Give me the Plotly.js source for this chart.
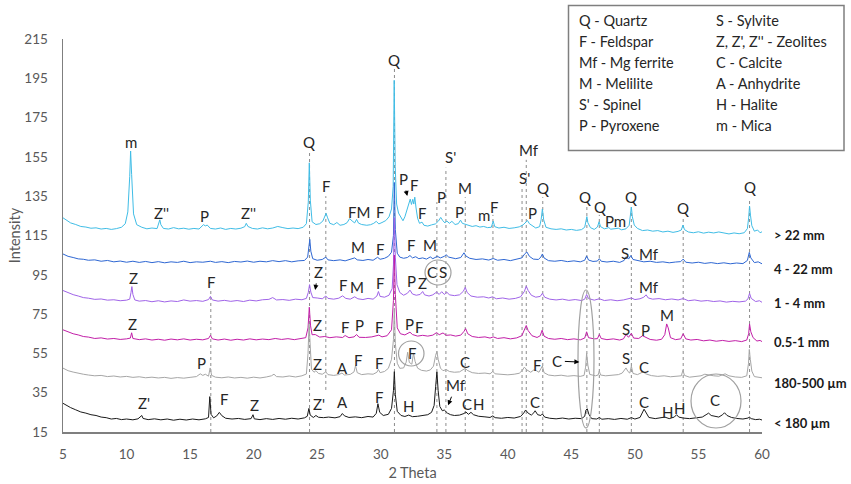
<!DOCTYPE html>
<html><head><meta charset="utf-8">
<script src="https://cdn.plot.ly/plotly-3.0.1.min.js"></script>
<style>html,body{margin:0;padding:0;background:#fff}#chart{width:851px;height:484px}</style>
</head><body><div id="chart"></div>
<script>
// ---- data: [2theta, intensity] ----
const s22 = [[5,124],[5.3,122.6],[5.6,121.4],[6,120.6],[6.4,119.6],[6.8,119.3],[7.2,118.7],[7.6,118.9],[8,118.3],[8.4,118.6],[8.8,118.1],[9.2,118.5],[9.6,119.2],[9.9,121],[10.1,127],[10.25,145],[10.32,158],[10.4,146],[10.55,126],[10.8,120.5],[11.2,119.2],[11.6,118.4],[12.0,118.8],[12.4,118.5],[12.55,121],[12.62,123],[12.7,120.5],[12.9,118.6],[13.3,118.3],[13.7,119],[14.1,118.4],[14.5,118.7],[14.9,118.2],[15.3,118.6],[15.7,118.3],[15.9,119.8],[16.05,120.5],[16.2,119.9],[16.35,120.3],[16.6,118.6],[17.0,118.3],[17.4,118.8],[17.8,118.1],[18.2,118.6],[18.6,118.3],[19.0,118.7],[19.3,119.5],[19.42,121.2],[19.55,119.6],[19.9,118.6],[20.3,118.3],[20.7,118.9],[21.1,118.4],[21.5,118.8],[21.9,119.6],[22.3,119],[22.7,118.5],[23.1,118.8],[23.5,118.5],[23.9,119.2],[24.15,121],[24.3,132],[24.38,152],[24.46,133],[24.6,122],[24.9,120.6],[25.2,121],[25.45,122.4],[25.62,125],[25.7,126.3],[25.82,124],[26.0,121.2],[26.3,120.5],[26.55,121.6],[26.8,120.2],[27.1,120.6],[27.35,121.5],[27.55,123.6],[27.75,122.4],[27.95,121.4],[28.1,123.2],[28.25,121.3],[28.5,120.6],[28.9,120.2],[29.2,120.5],[29.45,121.2],[29.65,122.2],[29.85,120.9],[30.1,121.6],[30.4,122.6],[30.65,124.5],[30.85,128.5],[30.98,140],[31.06,194],[31.14,150],[31.25,131],[31.4,126.4],[31.55,124.8],[31.75,122.5],[31.9,124.5],[32.05,127.6],[32.2,130.5],[32.32,133.5],[32.42,130.8],[32.52,133.4],[32.6,131],[32.68,134.5],[32.78,129],[32.9,123.8],[33.05,121.2],[33.25,121.8],[33.4,120.2],[33.7,119.8],[34.0,120.4],[34.3,120.9],[34.55,122.4],[34.72,124.2],[34.88,122.6],[35.05,121.4],[35.2,122.4],[35.4,121.2],[35.6,122.2],[35.85,120.6],[36.1,121],[36.28,122.8],[36.42,121.2],[36.6,120.8],[36.9,120],[37.2,119.6],[37.5,120],[37.8,119.3],[38.1,119.6],[38.4,119],[38.7,119.2],[38.85,122.3],[38.97,119.5],[39.3,118.8],[39.7,119.2],[40.1,118.6],[40.5,118.9],[40.9,119.4],[41.2,120.4],[41.42,121.6],[41.55,122.6],[41.7,121],[41.9,120.2],[42.2,118.8],[42.5,119.5],[42.62,123],[42.72,128.5],[42.82,123],[43.0,119.2],[43.4,118.4],[43.8,118.1],[44.2,118.4],[44.6,117.8],[45.0,118.1],[45.4,117.6],[45.8,118],[46.05,119.2],[46.15,122],[46.22,124.6],[46.3,121.5],[46.5,119],[46.8,118.1],[47.05,119.3],[47.18,122],[47.3,119.5],[47.6,118.4],[47.95,119],[48.1,118.2],[48.4,118.4],[48.7,118.7],[48.95,117.9],[49.3,118.4],[49.55,120.2],[49.66,125],[49.72,129.4],[49.8,124.5],[49.95,120.3],[50.2,118.6],[50.6,117.5],[51.0,117.8],[51.4,117.2],[51.8,117.5],[52.2,116.8],[52.6,117.2],[53.0,116.6],[53.4,117.1],[53.65,117.8],[53.78,120.3],[53.9,118],[54.2,116.8],[54.6,116.4],[55.0,116.9],[55.4,116.2],[55.8,116.7],[56.2,116.3],[56.6,116.8],[57.0,116.2],[57.4,115.8],[57.8,116.3],[58.2,115.9],[58.6,116.4],[58.85,118.5],[58.95,124],[59.02,130],[59.1,125],[59.2,120],[59.4,117.2],[59.65,117.8],[59.85,116.4],[60,116.9]];

const s4_22 = [[5,105.6],[5.4,104.4],[5.8,103.8],[6.2,103.1],[6.6,102.9],[7.0,102.4],[7.5,102.6],[8.0,101.9],[8.5,102.3],[9.0,101.6],[9.5,102],[10.0,101.4],[10.5,101.9],[11.0,101.3],[11.5,101.8],[12.0,101.2],[12.5,101.7],[13.0,101.1],[13.5,101.6],[14.0,101.3],[14.5,101.9],[15.0,101.2],[15.5,101.6],[16.0,101.4],[16.6,101.9],[17.0,101.3],[17.5,101.7],[18.0,101.2],[18.5,101.8],[19.0,101.5],[19.5,102],[20.0,101.4],[20.5,101.9],[21.0,101.6],[21.5,102.2],[22.0,101.7],[22.5,102.2],[23.0,101.6],[23.5,102.1],[24.0,102.3],[24.25,104],[24.35,109],[24.42,113],[24.5,107],[24.65,103.2],[25.0,102.4],[25.4,102.8],[25.68,104],[25.85,102.6],[26.3,102.2],[26.8,102.6],[27.2,102.1],[27.6,102.8],[27.95,103.6],[28.15,102.6],[28.6,102.3],[29.0,102.8],[29.4,102.4],[29.75,103.9],[29.95,102.9],[30.3,103.4],[30.6,104.4],[30.85,106.5],[31.0,115],[31.07,142],[31.15,118],[31.3,106],[31.5,104],[31.8,103.4],[32.1,103.8],[32.3,104.8],[32.5,103.6],[32.75,104.2],[33.0,103.2],[33.3,103.6],[33.6,103],[33.9,104.1],[34.1,103.2],[34.45,104.4],[34.7,103.6],[35.0,104.4],[35.15,105.2],[35.35,104],[35.6,103.8],[35.9,103.2],[36.3,103.8],[36.55,106.2],[36.7,104.6],[37.0,103.4],[37.5,102.8],[38.0,103.1],[38.5,102.5],[38.85,103.3],[39.2,102.4],[39.7,102.8],[40.2,102.2],[40.7,102.9],[41.1,103.6],[41.35,105.8],[41.5,106.6],[41.7,104.4],[42.0,103],[42.4,102.8],[42.6,104],[42.72,105.6],[42.85,103.6],[43.2,102.2],[43.7,101.9],[44.2,102.3],[44.7,101.7],[45.2,102.1],[45.7,101.6],[46.05,102.4],[46.2,104.6],[46.35,102.5],[46.7,101.8],[47.05,102],[47.2,103.2],[47.35,101.9],[47.8,101.5],[48.3,101.9],[48.8,101.3],[49.15,102.3],[49.32,104.2],[49.5,103],[49.68,104.8],[49.85,102.8],[50.2,102.2],[50.7,101.6],[51.2,101.9],[51.7,101.3],[52.2,101.6],[52.7,101.1],[53.2,101.5],[53.6,101.7],[53.8,103],[54.0,101.4],[54.5,101],[55.0,101.4],[55.5,100.8],[56.0,101.2],[56.5,100.7],[57.0,101.1],[57.5,100.6],[58.0,101],[58.5,100.7],[58.85,102.3],[59.0,106.4],[59.12,103.6],[59.4,101.2],[59.7,101.6],[60,100.6]];

const s1_4 = [[5,87],[5.4,85.8],[5.8,84.9],[6.2,84.2],[6.6,83.4],[7.0,83.1],[7.5,82.5],[8.0,82.7],[8.5,82.1],[9.0,82.3],[9.5,81.8],[10.0,82.1],[10.25,82.6],[10.35,86],[10.42,89],[10.5,85],[10.65,82.2],[11.0,81.6],[11.5,81.9],[12.0,81.3],[12.5,81.8],[13.0,81.2],[13.5,81.7],[14.0,81.4],[14.5,82.2],[15.0,81.6],[15.5,81.9],[16.0,81.5],[16.45,82.4],[16.6,84],[16.75,82.2],[17.2,81.6],[17.7,82],[18.2,81.5],[18.7,81.9],[19.2,81.4],[19.7,82.1],[20.2,81.7],[20.7,82.3],[21.2,82.5],[21.5,83.4],[21.8,82.2],[22.3,82.4],[22.8,82],[23.3,82.6],[23.8,82.3],[24.15,83],[24.3,86],[24.4,90],[24.5,86.2],[24.65,83.4],[25.0,83.2],[25.4,82.8],[25.68,84.2],[25.85,83],[26.3,82.6],[26.7,83.1],[27.0,84.3],[27.25,83],[27.6,82.6],[27.95,83.8],[28.2,82.8],[28.6,82.4],[29.0,83],[29.4,82.6],[29.7,84.2],[29.82,86.5],[29.95,84],[30.3,83.6],[30.65,84.6],[30.9,88],[31.0,100],[31.07,124],[31.15,104],[31.28,90],[31.5,86],[31.8,84.6],[32.1,85.6],[32.3,87.2],[32.5,85.2],[32.8,84.6],[33.1,85],[33.3,86.5],[33.45,84.8],[33.8,84.2],[34.1,84.8],[34.4,86.2],[34.6,85],[34.8,86.4],[35.0,85],[35.2,86.2],[35.4,84.8],[35.8,84.4],[36.2,84.8],[36.5,86.6],[36.65,88.6],[36.8,86],[37.1,84.2],[37.6,83.6],[38.1,83.8],[38.5,83.2],[38.8,83.8],[39.1,82.8],[39.6,83.2],[40.1,82.6],[40.6,83],[41.0,83.8],[41.3,86.5],[41.45,89.2],[41.6,87],[41.85,84.6],[42.2,83.6],[42.55,84],[42.72,85.6],[42.9,83.6],[43.3,82.6],[43.8,82.2],[44.3,82.6],[44.8,82],[45.3,82.4],[45.8,81.9],[46.05,82.6],[46.2,85],[46.35,82.9],[46.8,82.1],[47.2,82.8],[47.6,81.9],[48.1,82.3],[48.6,81.8],[49.1,82.2],[49.5,82.6],[49.72,83.2],[50.0,82.4],[50.4,82.8],[50.7,83.6],[50.88,84.8],[51.05,83.2],[51.4,82.6],[51.9,82.9],[52.4,82.3],[52.9,82.7],[53.4,82.2],[53.8,82.9],[54.2,81.8],[54.7,82.2],[55.2,81.6],[55.7,81.9],[56.2,81.4],[56.7,81.7],[57.2,81.1],[57.7,81.5],[58.2,81.2],[58.7,81.6],[58.9,82.8],[59.02,85.6],[59.15,83],[59.5,81.4],[59.8,81.8],[60,81]];

const s05_1 = [[5,67],[5.4,65.8],[5.8,65],[6.2,64.4],[6.6,63.6],[7.0,63.3],[7.5,62.6],[8.0,62.9],[8.5,62.3],[9.0,62.6],[9.5,62.1],[10.0,62.4],[10.3,62.8],[10.4,65.5],[10.5,62.6],[11.0,62],[11.5,62.4],[12.0,61.8],[12.5,62.2],[13.0,61.7],[13.5,62.3],[14.0,61.9],[14.5,62.4],[15.0,61.8],[15.5,62.2],[16.0,61.9],[16.45,62.6],[16.6,64.2],[16.75,62.4],[17.2,61.8],[17.7,62.3],[18.2,61.7],[18.7,62.2],[19.2,61.8],[19.7,62.4],[20.2,61.9],[20.7,62.3],[21.2,62],[21.7,62.6],[22.2,62.1],[22.7,62.5],[23.2,62],[23.7,62.4],[24.1,63],[24.28,68],[24.38,78.5],[24.48,69],[24.6,64.5],[24.85,64.6],[25.2,63.3],[25.6,63.6],[26.0,63],[26.5,63.4],[27.0,63.1],[27.2,64.1],[27.5,63],[27.9,63.4],[28.1,64.6],[28.3,63.2],[28.8,63.1],[29.3,63.4],[29.7,63.9],[29.85,64.3],[30.1,63.4],[30.5,64],[30.85,67],[31.0,82],[31.07,105],[31.15,85],[31.3,68],[31.55,65],[31.9,64.4],[32.15,65.2],[32.3,65.8],[32.5,64.6],[32.9,63.8],[33.3,64.2],[33.7,63.8],[34.1,64.3],[34.4,65.6],[34.6,64.5],[34.9,65.4],[35.15,64.2],[35.5,64.4],[35.9,63.8],[36.3,64.3],[36.55,66.2],[36.68,67.6],[36.85,65],[37.2,63.6],[37.7,63.1],[38.2,63.4],[38.6,62.8],[38.85,63.4],[39.2,62.6],[39.7,63],[40.2,62.4],[40.7,62.9],[41.1,64],[41.3,67],[41.45,69.2],[41.6,66.6],[41.9,64],[42.3,63.1],[42.55,64],[42.7,66.8],[42.85,63.8],[43.2,62.6],[43.7,62.2],[44.2,62.6],[44.7,62],[45.2,62.4],[45.7,61.9],[46.05,62.8],[46.2,66],[46.35,63],[46.8,62.4],[47.05,62.5],[47.2,64.6],[47.35,62.6],[47.8,62],[48.3,62.4],[48.8,61.8],[49.1,62.4],[49.3,64.6],[49.5,63.2],[49.72,65.2],[49.9,62.8],[50.3,62.6],[50.6,64],[50.8,63.4],[51.2,62.1],[51.7,61.7],[52.1,62.2],[52.35,64.5],[52.5,70],[52.62,68],[52.8,63],[53.2,62],[53.6,62.4],[53.8,65],[54.0,62.4],[54.4,61.8],[54.9,62.1],[55.4,61.4],[55.9,61.8],[56.4,61.2],[56.9,61.6],[57.4,61.1],[57.9,61.5],[58.4,61],[58.8,61.8],[58.95,65],[59.02,70],[59.12,66],[59.3,63],[59.6,61.3],[59.85,61.6],[60,61]];

const s180_500 = [[5,47.5],[5.4,46.2],[5.8,45.5],[6.2,44.8],[6.6,44.4],[7.0,44],[7.5,43.6],[8.0,43.8],[8.5,43.2],[9.0,43.5],[9.5,43],[10.0,43.3],[10.5,42.8],[11.0,43.1],[11.5,42.6],[12.0,42.9],[12.5,42.5],[13.0,42.8],[13.5,42.3],[14.0,42.7],[14.5,42.4],[15.0,42.8],[15.5,43.2],[15.8,44.6],[16.0,43.8],[16.2,44.4],[16.45,43.4],[16.58,47.6],[16.7,43.8],[17.0,42.9],[17.5,42.6],[18.0,43],[18.5,42.5],[19.0,42.8],[19.5,42.4],[20.0,42.9],[20.5,42.5],[21.0,43],[21.4,43.6],[21.6,44.4],[21.8,43.2],[22.3,43],[22.8,43.5],[23.3,43],[23.8,43.6],[24.15,44.5],[24.28,55],[24.36,70],[24.44,58],[24.55,47],[24.75,45.4],[24.9,46.2],[25.1,44.8],[25.4,44.4],[25.68,45.6],[25.85,44.2],[26.3,43.8],[26.7,44.2],[26.95,45],[27.15,44],[27.6,44.3],[27.9,45.6],[28.02,48.8],[28.15,45.2],[28.5,44.2],[29.0,44.6],[29.4,44.4],[29.7,45.4],[29.82,46.8],[29.95,45.2],[30.3,45.8],[30.6,47.4],[30.85,52],[31.0,62],[31.07,78],[31.15,60],[31.3,50],[31.5,47.4],[31.8,47.6],[32.0,50.5],[32.12,55.6],[32.25,50.4],[32.45,49.5],[32.58,55.2],[32.7,51],[32.9,47.5],[33.2,46.4],[33.6,46],[33.9,46.6],[34.15,48.5],[34.32,54],[34.42,56],[34.52,52],[34.7,47.5],[34.9,46.2],[35.15,46.8],[35.4,45.8],[35.8,45.4],[36.2,45.6],[36.5,46.6],[36.65,47.4],[36.8,46.4],[37.2,45.2],[37.7,44.8],[38.2,45],[38.6,44.6],[38.82,45.8],[39.0,44.6],[39.5,44.4],[40.0,44.1],[40.5,44.4],[40.9,44.9],[41.15,46.4],[41.3,48],[41.5,46.6],[41.8,45.4],[42.05,46.6],[42.25,46.2],[42.45,45.4],[42.62,47],[42.72,48.6],[42.85,45.2],[43.2,44],[43.7,43.6],[44.2,43.9],[44.7,43.4],[45.2,43.7],[45.7,43.3],[46.0,43.8],[46.12,48],[46.2,55],[46.3,49],[46.45,44.3],[46.9,43.6],[47.1,44],[47.2,46],[47.3,44],[47.7,43.6],[48.2,43.9],[48.7,44.2],[49.0,45],[49.2,46.8],[49.3,47.6],[49.45,45.8],[49.6,45],[49.72,48.5],[49.85,44.8],[50.2,44.2],[50.5,45.2],[50.65,45.6],[50.85,44.6],[51.3,43.7],[51.8,43.3],[52.3,43.6],[52.8,43.1],[53.3,43.4],[53.65,43.6],[53.78,46.4],[53.9,43.8],[54.3,42.9],[54.8,43.3],[55.2,43.6],[55.5,44.4],[55.8,44],[56.2,43.6],[56.6,43.4],[56.9,44.2],[57.1,44.6],[57.4,43.6],[57.9,43],[58.4,42.8],[58.8,43.6],[58.94,50],[59.0,57],[59.08,52],[59.2,46],[59.4,43.2],[59.7,42.9],[60,42.6]];

const s180 = [[5,29.6],[5.3,28.4],[5.6,27.4],[6.0,26.3],[6.4,25.2],[6.8,24.6],[7.2,23.8],[7.6,23.4],[8.0,22.6],[8.4,22.3],[8.8,21.6],[9.2,21.9],[9.6,21.3],[10.0,21.6],[10.5,21.2],[10.9,21.7],[11.1,22.6],[11.2,23.4],[11.3,21.9],[11.7,21.3],[12.2,21.7],[12.7,21.2],[13.2,21.6],[13.7,21],[14.2,21.5],[14.7,21.1],[15.2,21.6],[15.7,21.2],[16.2,21.7],[16.45,22.4],[16.55,33],[16.65,24],[16.85,22.2],[17.1,23.2],[17.3,25],[17.5,23.3],[17.8,22],[18.3,21.6],[18.8,21.9],[19.3,21.4],[19.8,21.8],[19.95,23.8],[20.05,21.7],[20.5,21.3],[21.0,21.8],[21.5,21.4],[22.0,21.9],[22.5,21.5],[23.0,22],[23.5,21.6],[24.0,22.2],[24.22,23],[24.35,27],[24.45,23.6],[24.7,22.4],[24.9,23.4],[25.1,22.5],[25.5,22.3],[25.9,22.6],[26.4,22.2],[26.8,22.8],[26.98,24.4],[27.15,23.2],[27.5,22.4],[28.0,22.7],[28.5,22.3],[29.0,22.9],[29.4,22.6],[29.65,24.5],[29.78,29.4],[29.92,25],[30.2,23.4],[30.6,24],[30.85,27],[31.0,36],[31.07,45.7],[31.15,34],[31.3,25.5],[31.6,23.4],[31.9,22.9],[32.2,23.6],[32.5,22.8],[32.9,23],[33.3,23.4],[33.7,23.8],[34.0,25],[34.2,28.5],[34.32,38],[34.42,45.6],[34.52,36],[34.65,28],[34.85,25.8],[35.0,26.2],[35.25,24.6],[35.5,23.8],[35.8,23.4],[36.2,23.6],[36.55,24.4],[36.7,25.2],[36.9,24],[37.1,25],[37.3,23.8],[37.7,23],[38.2,22.7],[38.6,22.4],[38.82,23.2],[39.0,22.3],[39.5,22],[40.0,22.4],[40.5,22.1],[41.0,22.9],[41.25,24.6],[41.4,26.2],[41.6,24.6],[41.85,23.6],[42.05,24.8],[42.15,25.8],[42.35,23.8],[42.6,23.4],[42.72,24.2],[42.9,22.6],[43.3,22],[43.8,21.7],[44.3,22.1],[44.8,21.6],[45.3,22],[45.8,21.8],[46.05,23],[46.15,26.2],[46.25,26.8],[46.38,24],[46.6,21.8],[47.0,21.6],[47.2,22.4],[47.4,21.5],[47.9,21.8],[48.4,21.4],[48.9,21.9],[49.4,21.5],[49.72,22.3],[50.0,21.6],[50.4,22.4],[50.6,25],[50.72,26.6],[50.85,25.2],[51.1,22.4],[51.6,21.8],[52.1,22.2],[52.35,22.6],[52.7,21.8],[53.1,22.6],[53.28,23.8],[53.45,22.6],[53.8,22.1],[54.3,21.8],[54.8,22.2],[55.3,22.6],[55.6,23.8],[55.8,24.6],[56.0,23.4],[56.3,22.8],[56.6,22.6],[56.9,23.8],[57.05,24.8],[57.25,23.4],[57.6,22.4],[58.0,21.9],[58.5,21.6],[58.9,22.1],[59.0,22.6],[59.15,21.8],[59.5,21.3],[59.8,21.5],[60,21.1]];

const seriesData = [s22, s4_22, s1_4, s05_1, s180_500, s180];
const seriesNames = ['> 22 mm', '4 - 22 mm', '1 - 4 mm', '0.5-1 mm', '180-500 µm', '< 180 µm'];
const seriesColors = ['#40BDE6', '#2E67D3', '#A064E8', '#C21FA8', '#A6A6A6', '#1A1A1A'];
const seriesLabelY = [235, 269, 303, 342, 383, 423]; // px rows of right-hand labels

// reference (dotted) lines: [2theta, top intensity, bottom intensity]
const refLines = [[16.63,87.3,15],[24.4,157.5,15],[25.68,135,36.4],[31.08,200,15],[34.42,132,15],[35.13,149.5,15],[36.65,134.5,15],[38.83,125.5,15],[41.12,139,15],[41.45,153.5,15],[42.75,134.5,15],[46.22,130.5,15],[47.2,125.5,15],[49.72,130.5,15],[53.8,124,15],[59.02,133,15]];

// phase labels: [2theta, intensity, text]
const peakLabels = [
 [10.35,162.6,'m'],[12.72,126.5,"Z''"],[16.1,124.9,'P'],[19.57,126.5,"Z''"],[24.37,162.6,'Q'],[25.71,140.2,'F'],[28.31,127,'FM'],[29.96,127,'F'],[31.06,204.3,'Q'],[32.64,140.7,'F'],[33.27,126.5,'F'],[34.76,134.6,'P'],[35.47,155,"S'"],[36.65,139.2,'M'],[36.18,127,'P'],[38.1,125.4,'m'],[38.94,129.7,'F'],[41.64,158.5,'Mf'],[41.33,144.1,"S'"],[41.95,126.3,'P'],[42.77,139,'Q'],[46.1,134.7,'Q'],[47.23,129.7,'Q'],[48.46,122.5,'Pm'],[49.7,134.7,'Q'],[53.8,128.8,'Q'],[59.04,139.5,'Q'],
 [28.25,109,'M'],[29.96,108,'F'],[32.4,110.2,'F'],[33.9,110.2,'M'],[49.25,105.9,'S'],[51.09,105.6,'Mf'],
 [10.54,93.2,'Z'],[16.63,91.5,'F'],[27.02,89.8,'F'],[28.17,88.9,'M'],[29.96,91,'F'],[32.46,92,'P'],[33.32,90.7,'Z'],[34.03,96.6,'C'],[34.92,96.6,'S'],[51.09,88.9,'Mf'],
 [10.48,70,'Z'],[25.02,69.5,'Z'],[27.2,68.3,'F'],[28.31,69.5,'P'],[29.9,68.3,'F'],[32.3,70.2,'P'],[33.0,68.3,'F'],[49.33,67.2,'S'],[50.83,66.9,'P'],[52.53,74.5,'M'],
 [15.87,50,'P'],[25.02,49.6,'Z'],[26.99,47.4,'A'],[28.25,51.6,'F'],[29.9,50.3,'F'],[32.46,55.4,'F'],[36.65,50.8,'C'],[42.3,49.1,'F'],[49.33,52.5,'S'],[50.75,47.9,'C'],
 [11.38,29.6,"Z'"],[17.68,31.6,'F'],[20.04,28.7,'Z'],[25.18,29.2,"Z'"],[26.99,30.4,'A'],[29.88,33,'F'],[32.22,28.2,'H'],[36.78,29.2,'C'],[37.68,29.4,'H'],[42.17,30.4,'C'],[50.69,30.4,'C'],[52.53,25.3,'H'],[53.5,27,'H'],[56.34,31.3,'C']
];
// arrow labels: [head 2theta, head intensity, text dx px, text dy px, text]
const arrowLabels = [[32.09,135.1,-4,-17,'P'],[24.84,87.3,3,-18,'Z'],[45.63,50.6,-22,-1,'C'],[35.3,28.6,8,-20,'Mf']];

const legendCol1 = ['Q - Quartz','F - Feldspar','Mf - Mg ferrite','M - Melilite',"S' - Spinel",'P - Pyroxene'];
const legendCol2 = ['S - Sylvite',"Z, Z', Z'' - Zeolites",'C - Calcite','A - Anhydrite','H - Halite','m - Mica'];
const legendRowsPx = [20.7, 41.7, 62.5, 83.5, 104.5, 125.5];

const xTicks = [5,10,15,20,25,30,35,40,45,50,55,60];
const yTicks = [15,35,55,75,95,115,135,155,175,195,215];

// ---- layout geometry ----
const W = 851, H = 484, L = 63, R = 89, T = 39, B = 52;
const PW = W - L - R, PH = H - T - B;
const px = v => (v - L) / PW;           // pixel x -> paper
const py = v => (H - B - v) / PH;       // pixel y -> paper
const FONT = 'Lato, "Open Sans", sans-serif';

const traces = seriesData.map((d, i) => ({
  x: d.map(p => p[0]), y: d.map(p => p[1]), name: seriesNames[i],
  type: 'scatter', mode: 'lines', line: {color: seriesColors[i], width: 1}, hoverinfo: 'skip'
}));

const shapes = refLines.map(r => ({type:'line', xref:'x', yref:'y', x0:r[0], x1:r[0], y0:r[2], y1:r[1],
  line:{color:'#8c8c8c', width:1, dash:'dot'}, layer:'below'}));
// legend box
shapes.push({type:'rect', xref:'paper', yref:'paper', x0:px(568.5), x1:px(844), y0:py(5.5), y1:py(150.5),
  line:{color:'#7f7f7f', width:1.5}, fillcolor:'rgba(255,255,255,0)'});
// circles/ellipses highlighting peaks
const ovals = [[425,451,260,285],[398.5,424,341,366],[578,594,290,428],[691,741,374,428]];
ovals.forEach(o => shapes.push({type:'circle', xref:'paper', yref:'paper', x0:px(o[0]), x1:px(o[1]), y0:py(o[3]), y1:py(o[2]),
  line:{color:'#a0a0a0', width:1.2}}));

const annotations = [];
peakLabels.forEach(p => annotations.push({x:p[0], y:p[1], xref:'x', yref:'y', text:p[2], showarrow:false,
  font:{family:FONT, size:15, color:'#262626'}, xanchor:'center', yanchor:'middle'}));
arrowLabels.forEach(a => annotations.push({x:a[0], y:a[1], xref:'x', yref:'y', ax:a[2], ay:a[3], text:a[4], showarrow:true,
  arrowhead:2, arrowsize:1, arrowwidth:1, arrowcolor:'#000', standoff:0, startstandoff:1,
  font:{family:FONT, size:15, color:'#262626'}}));
legendCol1.forEach((t, i) => annotations.push({x:px(576.5), y:py(legendRowsPx[i]), xref:'paper', yref:'paper', text:t,
  showarrow:false, xanchor:'left', yanchor:'middle', font:{family:FONT, size:14.5, color:'#262626'}}));
legendCol2.forEach((t, i) => annotations.push({x:px(713.5), y:py(legendRowsPx[i]), xref:'paper', yref:'paper', text:t,
  showarrow:false, xanchor:'left', yanchor:'middle', font:{family:FONT, size:14.5, color:'#262626'}}));
seriesNames.forEach((t, i) => annotations.push({x:px(772), y:py(seriesLabelY[i]), xref:'paper', yref:'paper', text:'<b>'+t+'</b>',
  showarrow:false, xanchor:'left', yanchor:'middle', font:{family:FONT, size:13, color:'#1a1a1a'}}));

const layout = {
  width: W, height: H, margin: {l:L, r:R, t:T, b:B, pad:0},
  paper_bgcolor:'#fff', plot_bgcolor:'#fff', showlegend:false,
  font:{family:FONT, color:'#595959'},
  xaxis: {range:[5,60], tickvals:xTicks, ticktext:xTicks.map(String), showgrid:false, zeroline:false,
    showline:true, linecolor:'#7f7f7f', linewidth:1.5, ticks:'outside', ticklen:9, tickcolor:'rgba(0,0,0,0)',
    tickfont:{family:FONT, size:13.5, color:'#595959'},
    title:{text:'2 Theta', font:{family:FONT, size:14.5, color:'#595959'}, standoff:7}},
  yaxis: {range:[15,215], tickvals:yTicks, ticktext:yTicks.map(String), showgrid:false, zeroline:false,
    showline:true, linecolor:'#7f7f7f', linewidth:1.5, ticks:'outside', ticklen:11, tickcolor:'rgba(0,0,0,0)',
    tickfont:{family:FONT, size:13.5, color:'#595959'},
    title:{text:'Intensity', font:{family:FONT, size:14.5, color:'#595959'}, standoff:0}},
  shapes: shapes, annotations: annotations
};

Plotly.newPlot('chart', traces, layout, {displayModeBar:false, staticPlot:true});
</script>
</body></html>
